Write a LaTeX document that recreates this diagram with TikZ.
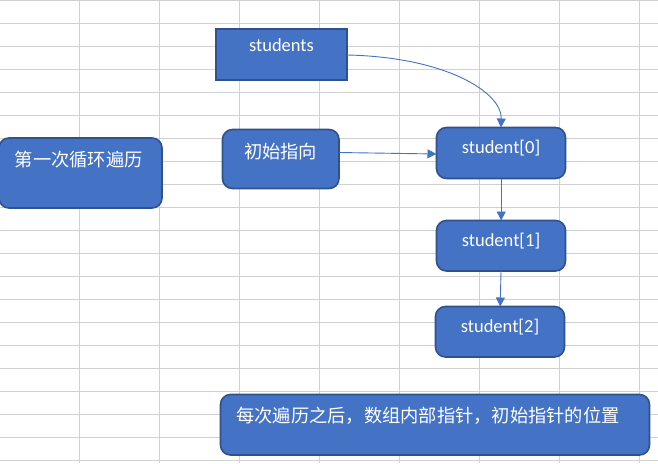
\documentclass[tikz,border=0pt]{standalone}
\usepackage{fontspec}
\setmainfont{Carlito}
\newfontfamily\cjk{Noto Sans CJK SC}
\usetikzlibrary{arrows.meta}
\definecolor{boxfill}{HTML}{4472C4}
\definecolor{boxline}{HTML}{2F528F}
\definecolor{gridc}{HTML}{D0D0D0}
\definecolor{arrc}{HTML}{4472C4}
\tikzset{
  shapebox/.style={fill=boxfill,draw=boxline,line width=1.6pt},
  roundbox/.style={shapebox,rounded corners=10pt},
  lbl/.style={text=white,font=\fontsize{18.5pt}{20pt}\selectfont,inner sep=0pt},
  cjklbl/.style={text=white,font=\cjk\fontsize{18.25pt}{20pt}\selectfont,inner sep=0pt},
  conn/.style={draw=arrc,line width=0.9pt,-{Triangle[length=9pt,width=9pt]}},
}
\begin{document}
\begin{tikzpicture}[x=1pt,y=-1pt]
\useasboundingbox (0,0) rectangle (658,463);
\fill[white] (0,0) rectangle (658,463);
% grid
\foreach \k in {0,...,7} {\draw[gridc,line width=1pt] ({79.5+80*\k},0) -- ({79.5+80*\k},463);}
\foreach \k in {0,...,20} {\draw[gridc,line width=1pt] (0,{0.5+23*\k}) -- (658,{0.5+23*\k});}
% boxes
\draw[shapebox] (216,29) rectangle (347,80);
\node[anchor=north west,minimum width=131pt,minimum height=51pt,inner sep=0pt] (students) at (216,29) {};
\node[lbl,anchor=base] (tstudents) at (281.5,51.7) {students};

\draw[roundbox] (-1,138) rectangle (162,208);
\node[anchor=north west,minimum width=163pt,minimum height=70pt,inner sep=0pt] (first) at (-1,138) {};
\node[cjklbl] (tfirst) at (78.7,159.3) {第一次循环遍历};

\draw[roundbox] (222.5,129.5) rectangle (339,188.5);
\node[anchor=north west,minimum width=116.5pt,minimum height=59pt,inner sep=0pt] (init) at (222.5,129.5) {};
\node[cjklbl] (tinit) at (280.5,151.8) {初始指向};

\draw[roundbox] (436.5,127.5) rectangle (565.5,178.5);
\node[anchor=north west,minimum width=129pt,minimum height=51pt,inner sep=0pt] (s0) at (436.5,127.5) {};
\node[lbl,anchor=base] (ts0) at (501,153.3) {student[0]};

\draw[roundbox] (436.5,220.5) rectangle (565.5,271);
\node[anchor=north west,minimum width=129pt,minimum height=50.5pt,inner sep=0pt] (s1) at (436.5,220.5) {};
\node[lbl,anchor=base] (ts1) at (501,246.7) {student[1]};

\draw[roundbox] (435.5,306.5) rectangle (564.5,357);
\node[anchor=north west,minimum width=129pt,minimum height=50.5pt,inner sep=0pt] (s2) at (435.5,306.5) {};
\node[lbl,anchor=base] (ts2) at (500,332.7) {student[2]};

\draw[roundbox] (220.5,394.5) rectangle (649.5,455);
\node[anchor=north west,minimum width=429pt,minimum height=60.5pt,inner sep=0pt] (note) at (220.5,394.5) {};
\node[cjklbl] (tnote) at (428,416.2) {每次遍历之后，数组内部指针，初始指针的位置};

% connectors
\coordinate (a0) at (347,55);
\coordinate (a1) at (501,127.5);
\draw[conn] (a0) .. controls (445,57) and (502,92) .. (a1);
\draw[conn] (init.east |- 0,152.5) -- (s0.west |- 0,154);
\draw[conn] (s0.south) -- (s1.north);
\draw[conn] (501,271) -- (s2.north);
\end{tikzpicture}
\end{document}
